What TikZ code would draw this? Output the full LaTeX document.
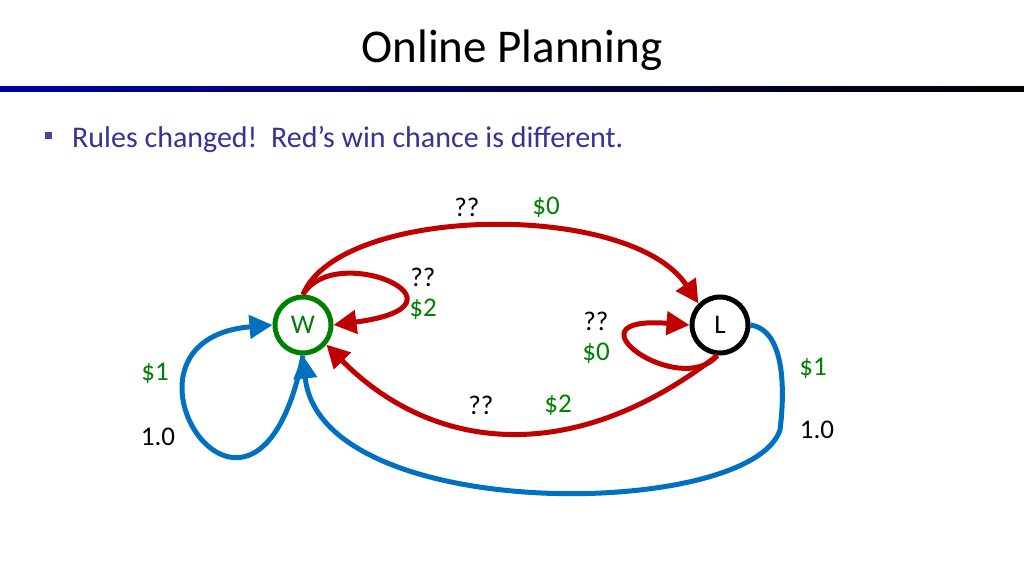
\documentclass[tikz,border=0pt]{standalone}
\usepackage{fontspec}
\setmainfont{Carlito}
\usepackage{xcolor}
\usepackage{tikz}
\usetikzlibrary{arrows.meta}
\definecolor{arcred}{RGB}{192,0,0}
\definecolor{arcblue}{RGB}{0,112,192}
\definecolor{wingreen}{RGB}{0,128,0}
\definecolor{textblue}{RGB}{51,51,153}
\definecolor{bulletblue}{RGB}{64,72,160}
\definecolor{ruleblue}{RGB}{0,0,160}
\tikzstyle{state} = [circle, line width=5pt, minimum size=56pt, inner sep=0pt, fill=white, font=\fontsize{27}{30}\selectfont]
\tikzstyle{redarc} = [draw=arcred, line width=5pt, -{Triangle[length=23pt,width=23pt]}]
\tikzstyle{bluearc} = [draw=arcblue, line width=5pt, -{Triangle[length=23pt,width=23pt]}]
\tikzstyle{lbl} = [font=\fontsize{27}{30}\selectfont, inner sep=0pt]
\tikzstyle{money} = [lbl, text=wingreen]

\begin{document}
\begin{tikzpicture}[x=1pt, y=-1pt]
\useasboundingbox[fill=white] (0,0) rectangle (1024,576);
%% Title and rule
\node[font=\fontsize{47}{54}\selectfont, anchor=base] (title) at (512,62) {Online Planning};
\shade[left color=ruleblue, right color=black] (0,86) rectangle (1024,91);
\fill[bulletblue] (45,132) rectangle (52,139);
\node[font=\fontsize{30}{36}\selectfont, text=textblue, anchor=base west, inner sep=0pt] (rules) at (72,147) {Rules changed!\ \ Red’s win chance is different.};

%% States
\node[state, draw=wingreen, text=wingreen] (W) at (303,325) {W};
\node[state, draw=black] (L) at (720,325) {L};

%% Red arcs
\draw[redarc] (W.north) .. controls (340,205) and (630,200) .. (L.north west);
\draw[redarc] (W.north) .. controls (335,240) and (485,305) .. (W.east);
\draw[redarc] (L.265) .. controls (570,470) and (430,450) .. (W.-40);
\draw[redarc] (L.265) .. controls (680,400) and (560,315) .. (L.west);

%% Blue arcs
\draw[bluearc] (W.south) .. controls (255,595) and (90,340) .. (W.west);
\draw[bluearc] (L.east) .. controls (785,330) and (785,390) .. (780,430) .. controls (750,520) and (320,525) .. (W.south);

%% Labels
\node[lbl] (qtop) at (467,207) {??};
\node[money] (mtop) at (546,207) {\$0};
\node[lbl] (qwloop) at (423,277) {??};
\node[money] (mwloop) at (423,309) {\$2};
\node[lbl] (qlloop) at (596,321) {??};
\node[money] (mlloop) at (596,353) {\$0};
\node[lbl] (qbot) at (481,405) {??};
\node[money] (mbot) at (558,405) {\$2};
\node[money] (mleft) at (155,373) {\$1};
\node[lbl] (pleft) at (158,437) {1.0};
\node[money] (mright) at (813,368) {\$1};
\node[lbl] (pright) at (817,430) {1.0};
\end{tikzpicture}
\end{document}
